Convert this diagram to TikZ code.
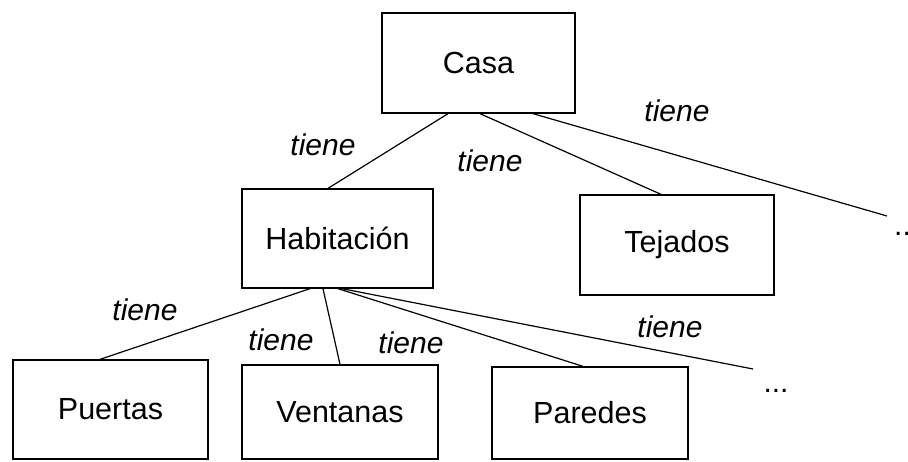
\documentclass[tikz,border=0pt]{standalone}
\usepackage{fontspec}
\setmainfont{Liberation Sans}
\usetikzlibrary{calc}
\begin{document}
\begin{tikzpicture}[x=1pt,y=-1pt,
  box/.style={draw,line width=1.3pt,rectangle,inner sep=0pt,font=\fontsize{30.5}{36}\selectfont},
  lbl/.style={font=\fontsize{30}{36}\selectfont\itshape,inner sep=0pt},
  dotsty/.style={font=\fontsize{30}{36}\selectfont,inner sep=0pt},
  link/.style={line width=1.2pt}]
\useasboundingbox[fill=white] (0,0) rectangle (908,461);
% boxes
\node[box,minimum width=193pt,minimum height=100pt] (casa) at (478.5,63) {Casa};
\node[box,minimum width=191pt,minimum height=99pt] (hab) at (337.5,238.5) {Habitación};
\node[box,minimum width=194pt,minimum height=100pt] (tej) at (677,245) {Tejados};
\node[box,minimum width=195pt,minimum height=99pt] (pue) at (110.5,409.5) {Puertas};
\node[box,minimum width=196pt,minimum height=94pt] (ven) at (340,412) {Ventanas};
\node[box,minimum width=196pt,minimum height=92pt] (par) at (590,413) {Paredes};
% dots
\node[dotsty,anchor=west] (dotsA) at (894,234) {...};
\node[dotsty] (dotsB) at (776,391) {...};
\coordinate (endA) at (887,216);
\coordinate (endB) at (753,369);
% connectors
\draw[link] ([xshift=-30.5pt]casa.south) -- ([xshift=-9.5pt]hab.north);
\draw[link] ([xshift=1.5pt]casa.south) -- ([xshift=-16pt]tej.north);
\draw[link] ([xshift=54.5pt]casa.south) -- (endA);
\draw[link] ([xshift=-27.5pt]hab.south) -- ([xshift=-10.5pt]pue.north);
\draw[link] ([xshift=-14.5pt]hab.south) -- (ven.north);
\draw[link] ([xshift=0.5pt]hab.south) -- ([xshift=-7pt]par.north);
\draw[link] ([xshift=4.5pt]hab.south) -- (endB);
% labels
\node[lbl] (l1) at (323,145) {tiene};
\node[lbl] (l2) at (490,161) {tiene};
\node[lbl] (l3) at (677,111) {tiene};
\node[lbl] (l4) at (145,310) {tiene};
\node[lbl] (l5) at (281,340) {tiene};
\node[lbl] (l6) at (411,343) {tiene};
\node[lbl] (l7) at (670,327) {tiene};
\end{tikzpicture}
\end{document}
